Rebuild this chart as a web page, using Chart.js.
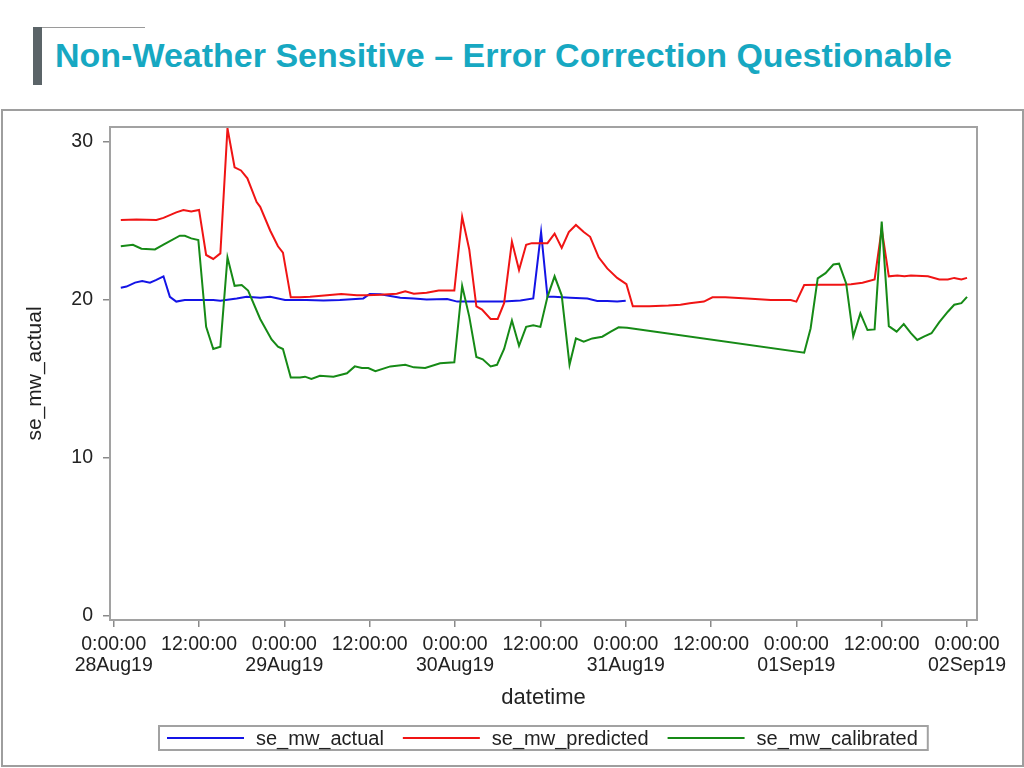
<!DOCTYPE html>
<html>
<head>
<meta charset="utf-8">
<script src="https://cdn.jsdelivr.net/npm/chart.js@4/dist/chart.umd.min.js"></script>
<style>
  html, body { margin: 0; padding: 0; background: #fff; }
  body { width: 1024px; height: 768px; position: relative; overflow: hidden; font-family: "Liberation Sans", Arial, sans-serif; }
  #bar { position: absolute; left: 33px; top: 27px; width: 9px; height: 58px; background: #5b6468; }
  #rule { position: absolute; left: 42px; top: 27px; width: 103px; height: 1px; background: #9a9a9a; }
  #title { position: absolute; left: 55px; top: 40px; margin: 0; font-weight: bold; color: #17a8c2; white-space: nowrap; line-height: 1; }
  #frame { position: absolute; left: 1px; top: 109px; width: 1019px; height: 654px; border: 2px solid #9e9e9e; }
  #wrap { position: absolute; left: 0; top: 0; width: 1024px; height: 768px; }
</style>
</head>
<body>
<div id="bar"></div>
<div id="rule"></div>
<div id="title">Non-Weather Sensitive – Error Correction Questionable</div>
<div id="frame"></div>
<div id="wrap"><canvas id="chart" width="1024" height="768"></canvas></div>
<script>
// hours since 28Aug19 0:00:00
const tickHours = [0, 12, 24, 36, 48, 60, 72, 84, 96, 108, 120];
const dayLabels = ['28Aug19', '29Aug19', '30Aug19', '31Aug19', '01Sep19', '02Sep19'];
const yTicks = [0, 10, 20, 30];

const actualHours = [1, 1.8, 3, 4, 5.1, 6, 7, 7.9, 8.8, 10, 12.6, 14, 15, 17.3, 18.7, 20.6, 22, 24.1, 27.1, 29.5, 31.8, 35.1, 36, 37.5, 40.3, 42.2, 44, 46.9, 48.3, 51.5, 54.8, 57.2, 59, 60.1, 61, 61.9, 64.2, 66.6, 68, 69.4, 70.8, 72];
const actualValues = [20.78, 20.85, 21.1, 21.2, 21.1, 21.27, 21.5, 20.2, 19.9, 20.0, 20.0, 20.0, 19.96, 20.1, 20.2, 20.15, 20.2, 20.0, 20.0, 19.97, 20.0, 20.1, 20.38, 20.36, 20.15, 20.1, 20.04, 20.06, 19.9, 19.9, 19.9, 19.97, 20.1, 24.3, 20.2, 20.2, 20.15, 20.1, 19.94, 19.94, 19.9, 19.96];

const predictedHours = [1, 3.2, 6, 7, 8.8, 9.8, 10.9, 12, 13, 14, 15, 16, 17, 17.9, 18.8, 20.1, 20.6, 22, 23.1, 23.8, 24.9, 26.2, 27.6, 30, 32, 34.2, 35.6, 37.5, 39.8, 41, 42.2, 44, 45.7, 47.9, 49, 50, 51, 51.8, 53, 54, 54.9, 56, 57, 58, 58.8, 61, 62, 63, 64, 65, 66.1, 67, 68.2, 69.4, 70.8, 72.1, 73, 75.3, 78, 79.7, 81, 83, 84.2, 86, 89.1, 92.4, 95.2, 96, 97.1, 99.4, 102.3, 103.7, 105.3, 107, 108, 109, 110.2, 111.2, 112.1, 114.5, 116.1, 117.3, 118.2, 119.2, 120];
const predictedValues = [25.06, 25.1, 25.06, 25.2, 25.55, 25.7, 25.6, 25.7, 22.85, 22.6, 22.95, 30.87, 28.4, 28.2, 27.7, 26.2, 25.9, 24.4, 23.4, 23.0, 20.17, 20.17, 20.2, 20.3, 20.38, 20.3, 20.3, 20.34, 20.4, 20.55, 20.4, 20.46, 20.6, 20.6, 25.27, 23.2, 19.6, 19.4, 18.8, 18.8, 19.8, 23.7, 21.9, 23.5, 23.6, 23.6, 24.2, 23.3, 24.3, 24.75, 24.3, 24.0, 22.7, 22.0, 21.4, 21.0, 19.6, 19.6, 19.65, 19.7, 19.8, 19.9, 20.17, 20.17, 20.1, 20.0, 20.0, 19.9, 20.95, 20.97, 20.97, 21.0, 21.1, 21.3, 24.5, 21.5, 21.55, 21.5, 21.55, 21.5, 21.3, 21.3, 21.4, 21.3, 21.4];

const calibratedHours = [1, 2.7, 3.9, 5.8, 7, 9.3, 10, 10.9, 11.9, 13, 14, 15, 16, 17, 18, 18.9, 20.6, 22.2, 23.1, 23.8, 24.9, 26.2, 26.9, 27.8, 29, 30.9, 32.8, 33.9, 34.9, 35.8, 36.8, 38.9, 41, 42.2, 43.8, 45.9, 47.9, 49, 50, 51, 51.9, 53, 53.9, 54.9, 56, 57, 58, 59, 60, 61, 62, 63, 64.1, 65, 66.1, 67.3, 68.7, 69.9, 71, 72.2, 97.1, 98, 99, 100.1, 101.2, 102, 103, 104, 105, 106, 107, 108, 109, 110.1, 111.1, 112.1, 113, 114, 115, 116.1, 117.3, 118.2, 119.2, 120];
const calibratedValues = [23.4, 23.5, 23.25, 23.2, 23.5, 24.07, 24.07, 23.9, 23.8, 18.3, 16.9, 17.05, 22.7, 20.9, 20.95, 20.6, 18.8, 17.5, 17.05, 16.9, 15.1, 15.1, 15.15, 15.0, 15.2, 15.15, 15.36, 15.8, 15.7, 15.7, 15.5, 15.8, 15.9, 15.74, 15.7, 16.0, 16.06, 20.9, 18.95, 16.4, 16.25, 15.8, 15.9, 16.9, 18.7, 17.1, 18.3, 18.4, 18.3, 20.2, 21.5, 20.3, 15.9, 17.57, 17.36, 17.57, 17.68, 18.0, 18.27, 18.25, 16.67, 18.2, 21.37, 21.7, 22.25, 22.3, 21.05, 17.7, 19.15, 18.1, 18.14, 24.96, 18.35, 18.0, 18.48, 17.9, 17.47, 17.7, 17.9, 18.6, 19.26, 19.7, 19.8, 20.2];

const seriesNames = ['se_mw_actual', 'se_mw_predicted', 'se_mw_calibrated'];
const seriesColors = ['#1414e6', '#f01414', '#168a16'];

const FONT = '"Liberation Sans", Arial, sans-serif';

// fit the heading to the width it has in the slide
(function fitTitle() {
    const el = document.getElementById('title');
    const c = document.createElement('canvas').getContext('2d');
    c.font = 'bold 30px ' + FONT;
    const w = c.measureText(el.textContent).width;
    const size = 30 * 897 / w;
    el.style.fontSize = size + 'px';
    el.style.top = (67 - 0.8465 * size) + 'px';
})();

function toPoints(hours, values) {
    return hours.map((h, i) => ({ x: h, y: values[i] }));
}

// plot frame (all four sides)
const boxPlugin = {
    id: 'plotBox',
    afterDatasetsDraw(chart) {
        const { ctx, chartArea: a } = chart;
        ctx.save();
        ctx.strokeStyle = '#a2a2a2';
        ctx.lineWidth = 2;
        ctx.strokeRect(a.left, a.top, a.right - a.left, a.bottom - a.top);
        ctx.restore();
    }
};

// boxed legend with line samples, centred under the plot
const legendPlugin = {
    id: 'lineLegend',
    afterDraw(chart) {
        const { ctx, chartArea: a } = chart;
        ctx.save();
        ctx.font = '20px ' + FONT;
        const widths = seriesNames.map(n => ctx.measureText(n).width);
        const total = 8 + widths.reduce((s, w) => s + 77 + 12 + w, 0) + 19 * (seriesNames.length - 1) + 10;
        const left = Math.round((a.left + a.right) / 2 - total / 2);
        const top = 726, h = 24, mid = top + h / 2;
        ctx.strokeStyle = '#a2a2a2';
        ctx.lineWidth = 2;
        ctx.strokeRect(left, top, total, h);
        let x = left + 8;
        seriesNames.forEach((name, i) => {
            ctx.strokeStyle = seriesColors[i];
            ctx.lineWidth = 2;
            ctx.beginPath();
            ctx.moveTo(x, mid);
            ctx.lineTo(x + 77, mid);
            ctx.stroke();
            x += 77 + 12;
            ctx.fillStyle = '#222';
            ctx.textBaseline = 'middle';
            ctx.fillText(name, x, mid + 1);
            x += widths[i] + 19;
        });
        ctx.restore();
    }
};

new Chart(document.getElementById('chart'), {
    type: 'line',
    data: {
        datasets: [
            { label: seriesNames[0], data: toPoints(actualHours, actualValues), borderColor: seriesColors[0], order: 3 },
            { label: seriesNames[1], data: toPoints(predictedHours, predictedValues), borderColor: seriesColors[1], order: 2 },
            { label: seriesNames[2], data: toPoints(calibratedHours, calibratedValues), borderColor: seriesColors[2], order: 1 }
        ]
    },
    options: {
        responsive: false,
        animation: false,
        events: [],
        layout: { padding: { top: 127, right: 47, bottom: 53, left: 0 } },
        elements: {
            point: { radius: 0 },
            line: { borderWidth: 2, tension: 0, fill: false }
        },
        plugins: {
            legend: { display: false },
            tooltip: { enabled: false }
        },
        scales: {
            x: {
                type: 'linear',
                min: -0.52,
                max: 121.4,
                afterBuildTicks: s => { s.ticks = tickHours.map(v => ({ value: v })); },
                afterFit: s => { s.height = 95; },
                grid: { drawOnChartArea: false, drawTicks: true, tickLength: 7, color: '#8a8a8a', lineWidth: 1.5 },
                border: { display: false },
                ticks: {
                    autoSkip: false,
                    maxRotation: 0,
                    padding: 7,
                    color: '#222',
                    font: { family: FONT, size: 19.5, lineHeight: 1.08 },
                    callback: v => (v % 24 === 0 ? ['0:00:00', dayLabels[v / 24]] : ['12:00:00'])
                },
                title: {
                    display: true,
                    text: 'datetime',
                    color: '#222',
                    font: { family: FONT, size: 22, lineHeight: 1.2 },
                    padding: { top: 0, bottom: 4 }
                }
            },
            y: {
                min: -0.25,
                max: 30.95,
                afterBuildTicks: s => { s.ticks = yTicks.map(v => ({ value: v })); },
                afterFit: s => { s.width = 110; },
                grid: { drawOnChartArea: false, drawTicks: true, tickLength: 7, color: '#8a8a8a', lineWidth: 1.5 },
                border: { display: false },
                ticks: {
                    padding: 10,
                    color: '#222',
                    font: { family: FONT, size: 19.5 }
                },
                title: {
                    display: true,
                    text: 'se_mw_actual',
                    color: '#222',
                    font: { family: FONT, size: 21, lineHeight: 1.2 },
                    padding: { top: 23, bottom: 0 }
                }
            }
        }
    },
    plugins: [boxPlugin, legendPlugin]
});
</script>
</body>
</html>
